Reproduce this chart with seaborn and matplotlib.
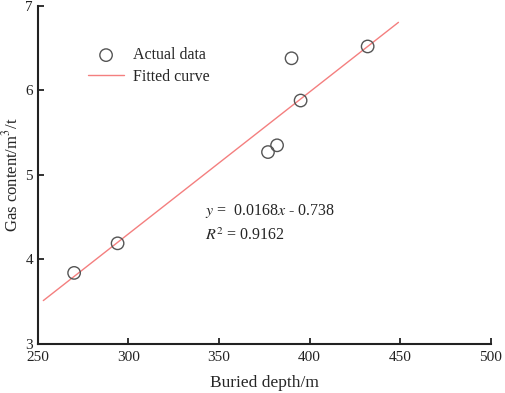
import numpy as np
import pandas as pd
import matplotlib
matplotlib.use("Agg")
import matplotlib.pyplot as plt
import seaborn as sns

# measured points
depth = [270, 294, 377, 382, 390, 395, 432]
gas = [3.84, 4.19, 5.27, 5.35, 6.38, 5.88, 6.52]

# fitted line y = 0.0168x - 0.738, drawn between its end points
fit_depth = [253, 449]
slope, intercept = 0.0168, -0.738
fit_gas = [slope * d + intercept for d in fit_depth]

x_ticks = [250, 300, 350, 400, 450, 500]
y_ticks = [3, 4, 5, 6, 7]

sns.set_theme(style="ticks")
plt.rcParams["font.family"] = ["Liberation Serif", "DejaVu Serif"]
plt.rcParams["mathtext.fontset"] = "stix"

df = pd.DataFrame({"depth": depth, "gas": gas})
fit = pd.DataFrame({"depth": fit_depth, "gas": fit_gas})

fig = plt.figure(figsize=(5.05, 3.93), dpi=100)
ax = fig.add_axes([0.075, 0.125, 0.897, 0.86])

sns.scatterplot(data=df, x="depth", y="gas", ax=ax, s=80, facecolor="none",
                edgecolor="#555555", linewidth=1.0, label="Actual data", zorder=3)
sns.lineplot(data=fit, x="depth", y="gas", ax=ax, color="#f47f7f", linewidth=1.0,
             label="Fitted curve")

ax.set_xlim(250, 500)
ax.set_ylim(3, 7)
ax.set_xticks(x_ticks)
ax.set_yticks(y_ticks)
ax.tick_params(direction="in", length=4, width=1.3, labelsize=11, colors="#222222")
ax.tick_params(axis="x", pad=5)
for s in ["left", "bottom"]:
    ax.spines[s].set_linewidth(1.5)
    ax.spines[s].set_color("#222222")
sns.despine(ax=ax)

ax.set_xlabel("Buried depth/m", fontsize=12.5, labelpad=8)
ax.set_ylabel("Gas content/m$^3$/t", fontsize=12)
ax.yaxis.set_label_coords(-0.036, 0.5)

ax.text(342, 4.53, r"$y$ =  0.0168$x$ - 0.738", fontsize=11.5, va="baseline")
ax.text(342, 4.23, r"$R^2$ = 0.9162", fontsize=11.5, va="baseline")

ax.legend(loc="upper left", bbox_to_anchor=(0.08, 0.92), frameon=False,
          fontsize=11.5, handlelength=2.2, handletextpad=0.6, labelspacing=0.35)

fig.savefig("out.png", dpi=100)
